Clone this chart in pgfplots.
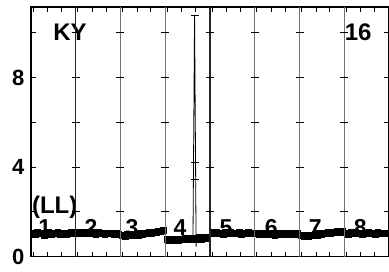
\documentclass[border=0pt]{standalone}
\usepackage{pgfplots}
\pgfplotsset{compat=1.18}
\usepackage{fontspec}
\setmainfont{Liberation Sans}
\begin{document}
\begin{tikzpicture}[x=1pt,y=1pt]
\begin{axis}[
 at={(0,0)}, anchor=south west,
 scale only axis, width=358pt, height=249.7pt,
 xmin=0, xmax=8, ymin=0, ymax=11.16,
 axis line style={line width=1.2pt},
 xtick={0,...,8}, xticklabels={},
 minor xtick={0.05,0.37,0.68,1.05,1.37,1.68,2.05,2.37,2.68,3.05,3.37,3.68,4.05,4.37,4.68,5.05,5.37,5.68,6.05,6.37,6.68,7.05,7.37,7.68},
 ytick={0,2,4,6,8,10}, yticklabels={0,,4,,8,},
 tick align=inside, major tick length=5pt, minor tick length=5pt,
 tick style={black, line width=1pt},
 ticklabel style={font=\fontsize{22}{24}\selectfont\bfseries},
 yticklabel style={xshift=-3pt},
 /pgf/number format/assume math mode=true,
 clip=false,
]
\node[font=\fontsize{24}{26}\selectfont\bfseries] at (axis cs:0.87,10.04) {KY};
\node[font=\fontsize{24}{26}\selectfont\bfseries] at (axis cs:7.31,10.04) {16};
\node[font=\fontsize{24}{26}\selectfont\bfseries] at (axis cs:0.53,2.23) {(LL)};
\node[font=\fontsize{23}{26}\selectfont\bfseries] at (axis cs:0.31,1.30) {1};
\node[font=\fontsize{23}{26}\selectfont\bfseries] at (axis cs:1.34,1.30) {2};
\node[font=\fontsize{23}{26}\selectfont\bfseries] at (axis cs:2.26,1.30) {3};
\node[font=\fontsize{23}{26}\selectfont\bfseries] at (axis cs:3.33,1.30) {4};
\node[font=\fontsize{23}{26}\selectfont\bfseries] at (axis cs:4.36,1.30) {5};
\node[font=\fontsize{23}{26}\selectfont\bfseries] at (axis cs:5.37,1.30) {6};
\node[font=\fontsize{23}{26}\selectfont\bfseries] at (axis cs:6.35,1.30) {7};
\node[font=\fontsize{23}{26}\selectfont\bfseries] at (axis cs:7.36,1.30) {8};
\addplot[black, line width=0.7pt, mark=square*, mark size=2.9pt] coordinates {
(0.05,1.07) (0.10,1.01) (0.15,1.09) (0.20,1.02) (0.25,1.06) (0.30,0.97) (0.35,1.05) (0.40,1.08) (0.45,1.00) (0.50,1.06) (0.55,1.02) (0.60,1.09) (0.65,1.01) (0.70,1.05) (0.75,1.07) (0.80,0.98) (0.85,1.06) (0.90,1.08) (0.95,1.04)
(1.05,1.09) (1.10,1.04) (1.15,1.11) (1.20,1.03) (1.25,1.08) (1.30,1.02) (1.35,1.10) (1.40,1.05) (1.45,1.01) (1.50,1.08) (1.55,1.03) (1.60,1.07) (1.65,0.99) (1.70,1.06) (1.75,1.02) (1.80,1.07) (1.85,0.99) (1.90,1.05) (1.95,1.01)
(2.05,0.97) (2.10,0.92) (2.15,0.99) (2.20,0.94) (2.25,1.00) (2.30,0.95) (2.35,1.02) (2.40,0.97) (2.45,1.04) (2.50,1.00) (2.55,1.06) (2.60,1.02) (2.65,1.09) (2.70,1.05) (2.75,1.11) (2.80,1.08) (2.85,1.14) (2.90,1.11) (2.95,1.16)
(3.05,0.77) (3.10,0.71) (3.15,0.79) (3.20,0.73) (3.25,0.78) (3.30,0.72) (3.35,0.80) (3.40,0.75) (3.45,0.81) (3.50,0.76) (3.55,0.82) (3.60,0.77) (3.65,0.83) (3.70,0.78) (3.75,0.85) (3.80,0.79) (3.85,0.86) (3.90,0.82) (3.95,0.87)
(4.05,1.08) (4.10,1.02) (4.15,1.09) (4.20,1.03) (4.25,1.07) (4.30,1.01) (4.35,1.08) (4.40,1.04) (4.45,1.10) (4.50,1.02) (4.55,1.07) (4.60,1.03) (4.65,1.09) (4.70,1.01) (4.75,1.07) (4.80,1.03) (4.85,1.08) (4.90,1.02) (4.95,1.05)
(5.05,1.05) (5.10,0.99) (5.15,1.06) (5.20,1.00) (5.25,1.04) (5.30,0.98) (5.35,1.05) (5.40,1.01) (5.45,0.97) (5.50,1.04) (5.55,1.00) (5.60,1.06) (5.65,0.98) (5.70,1.03) (5.75,1.05) (5.80,0.99) (5.85,1.04) (5.90,1.00) (5.95,1.04)
(6.05,0.95) (6.10,0.90) (6.15,0.96) (6.20,0.92) (6.25,0.98) (6.30,0.94) (6.35,1.00) (6.40,0.97) (6.45,1.03) (6.50,0.99) (6.55,1.05) (6.60,1.02) (6.65,1.08) (6.70,1.05) (6.75,1.11) (6.80,1.08) (6.85,1.13) (6.90,1.10) (6.95,1.14)
(7.05,1.07) (7.10,1.01) (7.15,1.08) (7.20,1.03) (7.25,1.09) (7.30,1.02) (7.35,1.06) (7.40,1.00) (7.45,1.07) (7.50,1.03) (7.55,1.09) (7.60,1.02) (7.65,1.06) (7.70,1.01) (7.75,1.08) (7.80,1.03) (7.85,1.07) (7.90,1.02) (7.95,1.05)
};
\addplot[black, line width=0.8pt, mark=none] coordinates {(3.62,0.80) (3.655,10.8) (3.69,0.45)};
\addplot[black, only marks, mark=-, mark size=4pt, line width=0.9pt] coordinates {(3.655,10.8) (3.66,4.2) (3.66,3.45)};
\end{axis}
% panel separators with their tick crosses
\foreach \k/\c in {1/black!85,2/black!55,3/black!55,4/black!85,5/black!55,6/black!55,7/black!55} {
  \draw[\c, line width=1.4pt] (\k*44.75,0) -- (\k*44.75,249.7);
  \foreach \v in {2,4,6,8,10} \draw[black, line width=1pt] (\k*44.75-4,\v*22.375) -- (\k*44.75+4,\v*22.375);
}
\pgfresetboundingbox
\useasboundingbox (-31,-14.3) rectangle (358,256.7);
\end{tikzpicture}
\end{document}
